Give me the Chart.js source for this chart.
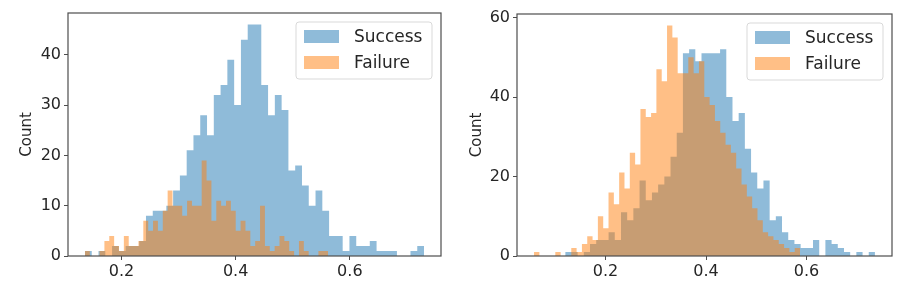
<!DOCTYPE html>
<html>
<head>
<meta charset="utf-8">
<script src="https://cdn.jsdelivr.net/npm/chart.js@4.4.0/dist/chart.umd.min.js"></script>
<style>
  html, body { margin: 0; padding: 0; background: #fff; }
  #wrap { position: relative; width: 899px; height: 283px; }
  .panel { position: absolute; top: 0; height: 283px; }
  #leftPanel { left: 0; width: 450px; }
  #rightPanel { left: 450px; width: 449px; }
</style>
</head>
<body>
<div id="wrap">
  <div class="panel" id="leftPanel"><canvas id="chartLeft" width="450" height="283"></canvas></div>
  <div class="panel" id="rightPanel"><canvas id="chartRight" width="449" height="283"></canvas></div>
</div>
<script>
const seriesNames = ["Success", "Failure"];

// left histogram: 50 bins each, bin range [lo, hi]
const leftSuccessRange = [0.136, 0.730];
const leftSuccessCounts = [1, 0, 1, 0, 2, 1, 2, 2, 3, 8, 9, 9, 10, 13, 16, 21, 24, 28, 24, 32,
  34, 39, 30, 43, 46, 46, 34, 28, 32, 29, 17, 18, 14, 10, 13, 9, 4, 4, 1, 4,
  2, 2, 3, 1, 1, 1, 0, 0, 1, 2];
const leftFailureRange = [0.136, 0.562];
const leftFailureCounts = [1, 0, 0, 1, 3, 4, 2, 1, 4, 2, 2, 3, 7, 5, 7, 5, 9, 13, 10, 10,
  8, 11, 10, 10, 19, 15, 7, 11, 10, 11, 9, 5, 7, 5, 2, 3, 10, 2, 1, 2,
  4, 3, 1, 0, 3, 1, 0, 0, 1, 1];

// right histogram
const rightSuccessRange = [0.120, 0.736];
const rightSuccessCounts = [1, 1, 0, 1, 3, 4, 4, 6, 4, 11, 9, 12, 19, 14, 16, 18, 20, 25, 31, 51,
  52, 49, 51, 51, 51, 52, 40, 34, 36, 27, 21, 17, 19, 9, 10, 6, 4, 3, 2, 2,
  4, 0, 4, 3, 2, 1, 0, 1, 0, 1];
const rightFailureRange = [0.058, 0.587];
const rightFailureCounts = [1, 0, 0, 0, 1, 0, 0, 2, 1, 3, 5, 4, 10, 7, 16, 13, 21, 17, 26, 23,
  37, 35, 36, 47, 44, 58, 55, 46, 46, 50, 46, 49, 40, 38, 34, 31, 28, 26, 22, 18,
  15, 12, 9, 6, 5, 4, 3, 2, 1, 2];

const xTicks = [0.2, 0.4, 0.6];
const leftYTicks = [0, 10, 20, 30, 40];
const rightYTicks = [0, 20, 40, 60];

const successColor = "rgba(31, 119, 180, 0.5)";
const failureColor = "rgba(255, 127, 14, 0.5)";
const textColor = "#262626";
const spineColor = "#4d4d4d";
const fontFamily = "'DejaVu Sans', sans-serif";

function histPoints(counts, range) {
  const step = (range[1] - range[0]) / counts.length;
  const pts = counts.map((c, i) => ({ x: range[0] + i * step, y: c }));
  pts.push({ x: range[1], y: 0 });
  return pts;
}

// matplotlib-like frame around the plot area
const frame = {
  id: "frame",
  afterDatasetsDraw(chart) {
    const a = chart.chartArea;
    const ctx = chart.ctx;
    ctx.save();
    ctx.strokeStyle = spineColor;
    ctx.lineWidth = 1.2;
    ctx.strokeRect(a.left, a.top, a.right - a.left, a.bottom - a.top);
    ctx.restore();
  }
};

// legend box in the upper right corner
const boxLegend = {
  id: "boxLegend",
  afterDraw(chart) {
    const ctx = chart.ctx;
    const a = chart.chartArea;
    const w = 136, h = 57;
    const x0 = a.right - 9 - w;
    const y0 = a.top + 9;
    ctx.save();
    ctx.beginPath();
    ctx.roundRect(x0, y0, w, h, 3);
    ctx.fillStyle = "rgba(255,255,255,0.8)";
    ctx.fill();
    ctx.strokeStyle = "#d9d9d9";
    ctx.lineWidth = 1;
    ctx.stroke();
    ctx.font = "17px " + fontFamily;
    ctx.textBaseline = "middle";
    seriesNames.forEach((name, k) => {
      const cy = y0 + 14.5 + k * 26;
      ctx.fillStyle = k === 0 ? successColor : failureColor;
      ctx.fillRect(x0 + 8, cy - 6.5, 35, 13);
      ctx.fillStyle = textColor;
      ctx.fillText(name, x0 + 58, cy + 1);
    });
    ctx.restore();
  }
};

function makeHist(canvasId, successCounts, successRange, failureCounts, failureRange, yTicks, pad) {
  const maxCount = Math.max(...successCounts, ...failureCounts);
  const lo = Math.min(successRange[0], failureRange[0]);
  const hi = Math.max(successRange[1], failureRange[1]);
  const margin = (hi - lo) * 0.05;

  return new Chart(document.getElementById(canvasId), {
    type: "line",
    data: {
      datasets: [
        {
          label: seriesNames[0],
          data: histPoints(successCounts, successRange),
          stepped: true,
          fill: "origin",
          backgroundColor: successColor,
          borderWidth: 0,
          pointRadius: 0,
          order: 2
        },
        {
          label: seriesNames[1],
          data: histPoints(failureCounts, failureRange),
          stepped: true,
          fill: "origin",
          backgroundColor: failureColor,
          borderWidth: 0,
          pointRadius: 0,
          order: 1
        }
      ]
    },
    options: {
      responsive: false,
      animation: false,
      layout: { padding: { left: 0, right: pad.right, top: pad.top, bottom: 0 } },
      plugins: { legend: { display: false }, tooltip: { enabled: false } },
      scales: {
        x: {
          type: "linear",
          min: lo - margin,
          max: hi + margin,
          afterFit: s => { s.height = 27; },
          afterBuildTicks: s => { s.ticks = xTicks.map(v => ({ value: v })); },
          ticks: {
            color: textColor,
            font: { family: fontFamily, size: 16 },
            padding: 2,
            maxRotation: 0,
            callback: v => v.toFixed(1)
          },
          grid: { drawOnChartArea: false, drawTicks: true, tickLength: 4, color: spineColor },
          border: { display: false }
        },
        y: {
          min: 0,
          max: maxCount * 1.05,
          afterFit: s => { s.width = pad.left; },
          afterBuildTicks: s => { s.ticks = yTicks.map(v => ({ value: v })); },
          ticks: {
            color: textColor,
            font: { family: fontFamily, size: 16 },
            padding: 3,
            callback: v => String(v)
          },
          title: {
            display: true,
            text: "Count",
            color: textColor,
            font: { family: fontFamily, size: 15 },
            padding: { top: 18, bottom: 0 }
          },
          grid: { drawOnChartArea: false, drawTicks: true, tickLength: 4, color: spineColor },
          border: { display: false }
        }
      }
    },
    plugins: [frame, boxLegend]
  });
}

makeHist("chartLeft", leftSuccessCounts, leftSuccessRange, leftFailureCounts, leftFailureRange,
  leftYTicks, { left: 68, right: 9, top: 13 });
makeHist("chartRight", rightSuccessCounts, rightSuccessRange, rightFailureCounts, rightFailureRange,
  rightYTicks, { left: 67, right: 7, top: 14 });
</script>
</body>
</html>
